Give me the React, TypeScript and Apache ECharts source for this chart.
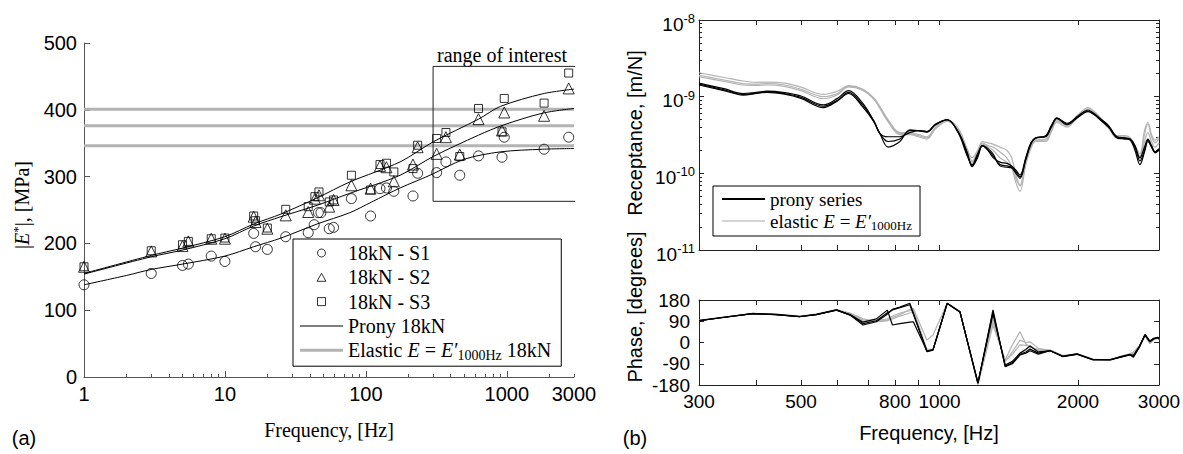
import React, { useEffect, useRef } from 'react';
import * as echarts from 'echarts';

// ---------------- (a) |E*| vs frequency ----------------
const sampleS1: [number, number][] = [
  [1, 138], [3, 155], [5, 167], [5.5, 169], [8, 181], [10, 173], [16, 215], [16.5, 195], [20, 191],
  [27, 210], [39, 216], [43, 228], [46, 246], [48, 246], [55, 222], [59, 224], [79, 267], [108, 241],
  [126, 282], [140, 283], [158, 278], [216, 271], [233, 305], [318, 306], [370, 322], [464, 302],
  [630, 331], [925, 329], [960, 359], [1840, 341], [2750, 359],
];
const sampleS2: [number, number][] = [
  [1, 165], [3, 188], [5, 196], [5.5, 203], [8, 207], [10, 207], [16, 240], [16.5, 232], [20, 222],
  [27, 242], [39, 247], [43.5, 267], [46.5, 272], [55, 255], [59, 265], [79, 287], [108, 282],
  [126, 316], [140, 314], [158, 293], [216, 318], [233, 344], [318, 334], [370, 359], [464, 333],
  [630, 386], [925, 369], [960, 396], [1840, 391], [2750, 432],
];
const sampleS3: [number, number][] = [
  [1, 165], [3, 189], [5, 198], [5.5, 203], [8, 207], [10, 208], [16, 241], [16.5, 234], [20, 223],
  [27, 251], [39, 255], [43.5, 270], [46.5, 277], [55, 262], [59, 265], [79, 302], [108, 280],
  [126, 318], [140, 320], [158, 307], [216, 312], [233, 347], [318, 357], [370, 366], [464, 330],
  [630, 402], [925, 367], [960, 417], [1840, 410], [2750, 455],
];
const pronyS1: [number, number][] = [
  [1, 138], [2, 152], [3, 161], [5, 169], [10, 181], [16, 195], [25, 208], [45, 229], [77, 246],
  [110, 262], [175, 283], [285, 302], [500, 326], [900, 337], [1800, 341], [3000, 342],
];
const pronyS2: [number, number][] = [
  [1, 154], [3, 180], [5, 190], [10, 207], [16, 226], [25, 240], [45, 257], [77, 275], [175, 302],
  [300, 330], [630, 362], [940, 377], [1800, 395], [3000, 402],
];
const pronyS3: [number, number][] = [
  [1, 155], [3, 182], [5, 193], [10, 210], [16, 229], [25, 244], [45, 268], [77, 292], [175, 322],
  [300, 352], [630, 386], [900, 405], [1800, 424], [3000, 431],
];
const elasticLevels = [401, 376, 346];
const elasticSpan = [1, 3000];
const roiCorners: [number, number][] = [[300, 263], [3400, 263], [3400, 465], [300, 465], [300, 263]];
const aMajorTicks = [1, 10, 100, 1000];
const aMinorTicks = [2, 3, 4, 5, 6, 7, 8, 9, 20, 30, 40, 50, 60, 70, 80, 90, 200, 300, 400, 500, 600, 700, 800, 900, 2000, 3000];
const aTickLabels = [1, 10, 100, 1000, 3000];

// ---------------- (b) receptance / phase ----------------
const rFreq = [300, 340, 374, 400, 422, 460, 500, 559, 600, 634, 680, 720, 742, 773, 820, 862, 900, 939, 980, 1040,
  1100, 1148, 1177, 1210, 1240, 1275, 1307, 1353, 1400, 1435, 1466, 1496, 1540, 1580, 1620, 1702, 1750, 1800, 1893, 2000,
  2103, 2170, 2233, 2330, 2431, 2530, 2600, 2660, 2727, 2790, 2838, 2890, 2940, 3000];
// receptance in units of 1e-10 m/N
const recProny1 = [14.2, 12.0, 10.5, 11.0, 11.4, 10.8, 9.5, 7.2, 8.8, 11.0, 7.4, 4.7, 3.3, 2.2, 2.6, 3.7, 3.6, 3.45, 4.3, 5.0,
  3.4, 1.9, 1.22, 1.6, 2.3, 2.1, 1.8, 1.25, 1.2, 1.17, 1.0, 0.86, 1.5, 2.4, 2.9, 3.0, 4.0, 5.2, 4.3, 5.4,
  6.4, 5.8, 5.0, 4.0, 2.9, 2.8, 2.7, 2.0, 1.3, 1.9, 2.6, 2.2, 1.85, 2.0];
const recProny2 = [15.0, 12.7, 11.0, 11.4, 11.8, 11.3, 10.2, 7.8, 9.5, 12.0, 8.3, 4.8, 3.3, 3.0, 3.0, 3.4, 3.6, 3.5, 4.4, 5.0,
  3.3, 1.7, 1.3, 1.8, 2.3, 2.0, 1.6, 1.4, 1.35, 1.25, 1.1, 0.95, 1.6, 2.5, 2.9, 3.1, 4.2, 5.3, 4.5, 5.6,
  6.7, 6.0, 5.2, 4.2, 3.0, 2.9, 2.8, 2.3, 1.6, 2.2, 2.8, 2.3, 1.9, 2.1];
const recProny3 = [14.6, 12.3, 10.7, 11.1, 11.6, 11.0, 9.8, 7.5, 9.0, 11.4, 7.8, 4.8, 3.3, 2.6, 2.8, 3.6, 3.6, 3.5, 4.3, 5.0,
  3.4, 1.8, 1.25, 1.7, 2.3, 2.0, 1.7, 1.3, 1.25, 1.2, 1.05, 0.9, 1.55, 2.45, 2.9, 3.05, 4.1, 5.2, 4.4, 5.5,
  6.5, 5.9, 5.1, 4.1, 2.95, 2.85, 2.75, 2.2, 1.45, 2.0, 2.7, 2.25, 1.9, 2.05];
const recElastic1 = [20.5, 17.8, 16.0, 15.4, 15.5, 15.0, 13.3, 10.7, 11.8, 13.9, 12.6, 9.6, 7.4, 5.0, 3.4, 3.4, 3.2, 3.0, 4.0, 5.0,
  3.8, 2.1, 1.6, 2.0, 2.6, 2.5, 2.4, 2.2, 2.0, 1.6, 0.95, 0.7, 1.4, 2.2, 2.7, 2.7, 3.6, 4.8, 4.3, 5.8,
  7.2, 6.4, 5.4, 4.2, 3.1, 3.1, 2.9, 2.3, 1.8, 3.6, 4.6, 3.2, 2.7, 3.0];
const recElastic2 = [19.0, 16.5, 14.8, 14.6, 14.8, 14.2, 12.5, 10.0, 11.0, 13.6, 12.3, 9.4, 7.2, 4.9, 3.3, 3.3, 3.1, 2.9, 3.9, 4.9,
  3.6, 2.0, 1.45, 1.9, 2.5, 2.3, 2.2, 1.9, 1.6, 1.2, 0.75, 0.58, 1.3, 2.1, 2.6, 2.6, 3.5, 4.6, 4.0, 5.5,
  6.9, 6.2, 5.2, 4.0, 3.0, 3.0, 2.8, 2.2, 1.65, 3.2, 4.4, 3.0, 2.5, 2.8];
const recElastic3 = [18.2, 15.8, 14.2, 14.0, 14.2, 13.6, 12.0, 9.4, 10.6, 13.4, 12.1, 9.2, 7.0, 4.7, 3.2, 3.2, 3.0, 2.8, 3.8, 4.8,
  3.5, 1.9, 1.4, 1.85, 2.4, 2.2, 2.0, 1.6, 1.4, 1.2, 0.85, 0.68, 1.35, 2.2, 2.7, 2.8, 3.8, 5.0, 4.2, 5.3,
  6.5, 6.0, 5.1, 3.9, 2.9, 2.9, 2.75, 2.1, 1.55, 2.6, 3.4, 2.6, 2.2, 2.5];

const pFreq = [300, 340, 393, 440, 497, 540, 597, 639, 682, 729, 770, 790, 820, 862, 877, 939, 968, 1039, 1108, 1212,
  1307, 1389, 1440, 1496, 1540, 1573, 1640, 1739, 1855, 1990, 2157, 2348, 2480, 2595, 2640, 2720, 2797, 2866, 2920, 2980, 3000];
const phaseProny1 = [92, 107, 123, 118, 109, 118, 138, 116, 74, 88, 120, 140, 150, 166, 125, -39, -32, 166, 130, -173,
  138, -102, -90, -53, -45, -35, -49, -35, -60, -50, -74, -74, -62, -53, -62, -20, 32, 3, 15, 20, 15];
const phaseProny2 = [93, 107, 122, 118, 110, 119, 137, 118, 86, 100, 137, 74, 80, 86, 88, -36, -30, 166, 128, -170,
  120, -95, -80, -45, -30, -15, -40, -35, -58, -48, -72, -72, -60, -50, -55, -15, 34, 6, 18, 22, 18];
const phaseProny3 = [93, 106, 122, 119, 110, 118, 137, 117, 80, 92, 126, 138, 148, 160, 120, -37, -31, 165, 129, -172,
  130, -100, -86, -50, -40, -28, -45, -34, -59, -49, -73, -73, -61, -52, -58, -18, 33, 4, 16, 21, 16];
const phaseElastic1 = [94, 108, 122, 120, 112, 120, 139, 125, 100, 90, 95, 105, 118, 140, 145, 10, 32, 166, 130, -178,
  74, -74, -10, 46, -5, -20, -30, -32, -55, -48, -70, -76, -58, -48, -40, -15, 28, -5, 10, 18, 12];
const phaseElastic2 = [94, 108, 122, 120, 111, 120, 139, 123, 95, 92, 100, 112, 125, 135, 140, -30, -28, 166, 130, -176,
  100, -80, -40, 10, 0, 3, -25, -33, -56, -48, -71, -75, -59, -49, -45, -16, 30, -2, 12, 19, 14];
const phaseElastic3 = [93, 107, 122, 120, 111, 119, 138, 121, 90, 88, 92, 100, 112, 125, 130, -35, -30, 166, 129, -175,
  85, -78, -50, -10, -12, -15, -35, -34, -57, -49, -72, -74, -60, -50, -50, -17, 30, 0, 14, 20, 15];

const bTicks = [300, 400, 500, 600, 700, 800, 900, 1000, 2000, 3000];
const bTickLabels = [300, 500, 800, 1000, 2000, 3000];
const recDecades = [-11, -10, -9, -8];
const recMantissas = [2, 3, 4, 5, 6, 7, 8, 9];
const phaseTicks = [-180, -90, 0, 90, 180];

const SERIF = 'Liberation Serif';
const SANS = 'Liberation Sans';
const AXA = '#555555';
const AXB = '#222222';
const GRAY = '#b3b3b3';
const lg = Math.log10;

const ICON_TRI = 'path://M5,0L10,9L0,9Z';
const ICON_SQ = 'path://M0,0H10V10H0Z';
const iconBar = (h: number) => `path://M0,0H43V${h}H0Z`;

const recMinor = recDecades.slice(0, -1).flatMap((d) => recMantissas.map((m) => lg(m) + d));

function buildOption(): any {
  const hidden = { show: false };
  const common = { type: 'value', splitLine: hidden };
  const tick = (vals: number[], len: number, color: string) => ({
    show: true, inside: true, length: len, lineStyle: { color, width: 1 }, customValues: vals,
  });
  const line = (color: string, show = true) => ({ show, onZero: false, lineStyle: { color, width: 1 } });
  const bMin = lg(300);
  const bMax = lg(3000);
  const bTickVals = bTicks.map(lg);

  const xAxis: any[] = [
    { ...common, gridIndex: 0, min: 0, max: lg(3000), position: 'bottom', axisLine: line(AXA),
      axisTick: tick(aMajorTicks.map(lg), 6, AXA),
      axisLabel: { customValues: aTickLabels.map(lg), formatter: (v: number) => String(Math.round(10 ** v)),
        color: '#000', fontFamily: SANS, fontSize: 20, margin: 7 } },
    { ...common, gridIndex: 0, min: 0, max: lg(3000), position: 'bottom', axisLine: line(AXA, false),
      axisTick: tick(aMinorTicks.map(lg), 3, AXA), axisLabel: hidden },
    { ...common, gridIndex: 1, min: bMin, max: bMax, position: 'bottom', axisLine: line(AXB),
      axisTick: tick(bTickVals, 5, AXB), axisLabel: hidden },
    { ...common, gridIndex: 1, min: bMin, max: bMax, position: 'top', axisLine: line(AXB),
      axisTick: tick(bTickVals, 5, AXB), axisLabel: hidden },
    { ...common, gridIndex: 2, min: bMin, max: bMax, position: 'bottom', axisLine: line(AXB),
      axisTick: tick(bTickVals, 5, AXB),
      axisLabel: { customValues: bTickLabels.map(lg), formatter: (v: number) => String(Math.round(10 ** v)),
        color: '#000', fontFamily: SANS, fontSize: 19, margin: 7 } },
    { ...common, gridIndex: 2, min: bMin, max: bMax, position: 'top', axisLine: line(AXB),
      axisTick: tick(bTickVals, 5, AXB), axisLabel: hidden },
  ];
  const yAxis: any[] = [
    { ...common, gridIndex: 0, min: 0, max: 500, interval: 100, position: 'left', axisLine: line(AXA),
      axisTick: { show: true, inside: true, length: 6, lineStyle: { color: AXA } },
      axisLabel: { color: '#000', fontFamily: SANS, fontSize: 20, margin: 7 } },
    { ...common, gridIndex: 1, min: -11, max: -8, position: 'left', axisLine: line(AXB),
      axisTick: tick(recDecades, 5, AXB),
      axisLabel: { customValues: recDecades, formatter: (v: number) => `{b|10}{e|${v}}`, margin: 4, padding: [8, 0, 0, 0],
        rich: { b: { fontFamily: SANS, fontSize: 19, color: '#000', lineHeight: 24 },
          e: { fontFamily: SANS, fontSize: 13, color: '#000', lineHeight: 12, verticalAlign: 'top' } } } },
    { ...common, gridIndex: 1, min: -11, max: -8, position: 'left', axisLine: line(AXB, false),
      axisTick: tick(recMinor, 3, AXB), axisLabel: hidden },
    { ...common, gridIndex: 1, min: -11, max: -8, position: 'right', axisLine: line(AXB),
      axisTick: tick(recDecades, 5, AXB), axisLabel: hidden },
    { ...common, gridIndex: 1, min: -11, max: -8, position: 'right', axisLine: line(AXB, false),
      axisTick: tick(recMinor, 3, AXB), axisLabel: hidden },
    { ...common, gridIndex: 2, min: -180, max: 180, interval: 90, position: 'left', axisLine: line(AXB),
      axisTick: tick(phaseTicks, 5, AXB),
      axisLabel: { customValues: phaseTicks, color: '#000', fontFamily: SANS, fontSize: 19, margin: 9 } },
    { ...common, gridIndex: 2, min: -180, max: 180, interval: 90, position: 'right', axisLine: line(AXB),
      axisTick: tick(phaseTicks, 5, AXB), axisLabel: hidden },
  ];

  const logPts = (pts: [number, number][]) => pts.map(([f, v]) => [lg(f), v]);
  const scatter = (name: string, pts: [number, number][], symbol: string, size: number) => ({
    type: 'scatter', name, xAxisIndex: 0, yAxisIndex: 0, symbol, symbolSize: size, data: logPts(pts), z: 3,
    itemStyle: { color: 'rgba(0,0,0,0)', borderColor: '#000', borderWidth: 1 },
  });
  const aLine = (name: string, pts: [number, number][], color: string, width: number, z: number, smooth: number) => ({
    type: 'line', name, xAxisIndex: 0, yAxisIndex: 0, data: logPts(pts), symbol: 'none', smooth, z,
    lineStyle: { color, width }, itemStyle: { color },
  });
  const recLine = (name: string, vals: number[], color: string, width: number) => ({
    type: 'line', name, xAxisIndex: 2, yAxisIndex: 1, symbol: 'none', smooth: 0.35,
    data: rFreq.map((f, i) => [lg(f), lg(vals[i] * 1e-10)]),
    lineStyle: { color, width }, itemStyle: { color },
  });
  const phLine = (name: string, vals: number[], color: string, width: number) => ({
    type: 'line', name, xAxisIndex: 4, yAxisIndex: 5, symbol: 'none',
    data: pFreq.map((f, i) => [lg(f), vals[i]]),
    lineStyle: { color, width }, itemStyle: { color },
  });

  const elasticNames = ['Elastic 18kN', 'Elastic 18kN b', 'Elastic 18kN c'];
  const series: any[] = [
    ...elasticLevels.map((lvl, i) =>
      aLine(elasticNames[i], elasticSpan.map((f) => [f, lvl]) as [number, number][], GRAY, 3, 1, 0)),
    aLine('Prony 18kN', pronyS1, '#000', 1, 2, 0.3),
    aLine('Prony 18kN b', pronyS2, '#000', 1, 2, 0.3),
    aLine('Prony 18kN c', pronyS3, '#000', 1, 2, 0.3),
    scatter('18kN - S1', sampleS1, 'circle', 10),
    scatter('18kN - S2', sampleS2, 'triangle', 11),
    scatter('18kN - S3', sampleS3, 'rect', 8),
    { ...aLine('roi', roiCorners, '#222', 1, 2, 0), clip: false },
    recLine('elastic', recElastic1, GRAY, 1.2),
    recLine('rg2', recElastic2, GRAY, 1.2),
    recLine('rg3', recElastic3, GRAY, 1.2),
    recLine('prony series', recProny1, '#000', 1.2),
    recLine('rb2', recProny2, '#000', 1.2),
    recLine('rb3', recProny3, '#000', 1.2),
    phLine('pg1', phaseElastic1, GRAY, 1.2),
    phLine('pg2', phaseElastic2, GRAY, 1.2),
    phLine('pg3', phaseElastic3, GRAY, 1.2),
    phLine('pb1', phaseProny1, '#000', 1.2),
    phLine('pb2', phaseProny2, '#000', 1.2),
    phLine('pb3', phaseProny3, '#000', 1.2),
  ];

  const richSerif = (size: number, lh: number) => ({
    r: { fontFamily: SERIF, fontSize: size, color: '#000', lineHeight: lh },
    i: { fontFamily: SERIF, fontStyle: 'italic', fontSize: size, color: '#000', lineHeight: lh },
    s: { fontFamily: SERIF, fontSize: Math.round(size * 0.68), color: '#000', lineHeight: 13, verticalAlign: 'bottom' },
  });
  const hollow = { color: 'rgba(0,0,0,0)', borderColor: '#000', borderWidth: 1 };

  return {
    animation: false,
    backgroundColor: '#fff',
    grid: [
      { left: 84, top: 43, width: 490, height: 334, outerBoundsMode: 'none' },
      { left: 699, top: 20, width: 460, height: 230, outerBoundsMode: 'none' },
      { left: 699, top: 300, width: 460, height: 85, outerBoundsMode: 'none' },
    ],
    xAxis,
    yAxis,
    legend: [
      {
        left: 293, top: 239, orient: 'vertical', itemWidth: 43, itemHeight: 8, itemGap: 0.3,
        padding: [2, 10, 4, 7], borderColor: '#000', borderWidth: 1, backgroundColor: '#fff',
        selectedMode: false, symbolKeepAspect: true,
        data: [
          { name: '18kN - S1', icon: 'circle', itemStyle: hollow },
          { name: '18kN - S2', icon: ICON_TRI, itemStyle: hollow },
          { name: '18kN - S3', icon: ICON_SQ, itemStyle: { ...hollow } },
          { name: 'Prony 18kN', icon: iconBar(1), itemStyle: { color: '#000', borderWidth: 0 } },
          { name: 'Elastic 18kN', icon: iconBar(3), itemStyle: { color: GRAY, borderWidth: 0 } },
        ],
        formatter: (n: string) => (n === 'Elastic 18kN' ? '{r|Elastic }{i|E}{r| = }{i|E′}{s|1000Hz}{r| 18kN}' : `{r|${n}}`),
        textStyle: { fontFamily: SERIF, fontSize: 20, color: '#000', lineHeight: 24, rich: richSerif(20, 24) },
      },
      {
        left: 713, top: 186, orient: 'vertical', itemWidth: 43, itemHeight: 8, itemGap: 0,
        padding: [2, 8, 4, 9], borderColor: '#000', borderWidth: 1, backgroundColor: '#fff',
        selectedMode: false, symbolKeepAspect: true,
        data: [
          { name: 'prony series', icon: iconBar(2), itemStyle: { color: '#000', borderWidth: 0 } },
          { name: 'elastic', icon: iconBar(1), itemStyle: { color: '#aaaaaa', borderWidth: 0 } },
        ],
        formatter: (n: string) => (n === 'elastic' ? '{r|elastic }{i|E}{r| = }{i|E′}{s|1000Hz}' : `{r|${n}}`),
        textStyle: { fontFamily: SERIF, fontSize: 19, color: '#000', lineHeight: 22, rich: richSerif(19, 22) },
      },
    ],
    graphic: [
      { type: 'text', x: 22, y: 205, rotation: Math.PI / 2,
        style: { text: '{r||}{i|E}{sup|*}{r||, [MPa]}', fontFamily: SERIF, fontSize: 20, fill: '#000', align: 'center', verticalAlign: 'middle',
          rich: { r: { fontFamily: SERIF, fontSize: 20, lineHeight: 22 },
            i: { fontFamily: SERIF, fontStyle: 'italic', fontSize: 20, lineHeight: 22 },
            sup: { fontFamily: SERIF, fontSize: 13, lineHeight: 10, verticalAlign: 'top' } } } },
      { type: 'text', x: 329, y: 430, style: { text: 'Frequency, [Hz]', fontFamily: SERIF, fontSize: 20, fill: '#000', align: 'center', verticalAlign: 'middle' } },
      { type: 'text', x: 502, y: 55, style: { text: 'range of interest', fontFamily: SERIF, fontSize: 20, fill: '#000', align: 'center', verticalAlign: 'middle' } },
      { type: 'text', x: 24, y: 438, style: { text: '(a)', fontFamily: SANS, fontSize: 20, fill: '#000', align: 'center', verticalAlign: 'middle' } },
      { type: 'text', x: 635, y: 438, style: { text: '(b)', fontFamily: SANS, fontSize: 20, fill: '#000', align: 'center', verticalAlign: 'middle' } },
      { type: 'text', x: 635, y: 133, rotation: Math.PI / 2, style: { text: 'Receptance, [m/N]', fontFamily: SANS, fontSize: 20, fill: '#000', align: 'center', verticalAlign: 'middle' } },
      { type: 'text', x: 635, y: 307, rotation: Math.PI / 2, style: { text: 'Phase, [degrees]', fontFamily: SANS, fontSize: 20, fill: '#000', align: 'center', verticalAlign: 'middle' } },
      { type: 'text', x: 929, y: 433, style: { text: 'Frequency, [Hz]', fontFamily: SANS, fontSize: 20, fill: '#000', align: 'center', verticalAlign: 'middle' } },
    ],
    series,
  };
}

export default function App() {
  const ref = useRef<HTMLDivElement>(null);
  useEffect(() => {
    document.body.style.margin = '0';
    const chart = echarts.init(ref.current as HTMLDivElement, undefined, { renderer: 'svg' });
    chart.setOption(buildOption());
    return () => chart.dispose();
  }, []);
  return <div ref={ref} style={{ position: 'fixed', left: 0, top: 0, width: 1183, height: 454, background: '#fff' }} />;
}
